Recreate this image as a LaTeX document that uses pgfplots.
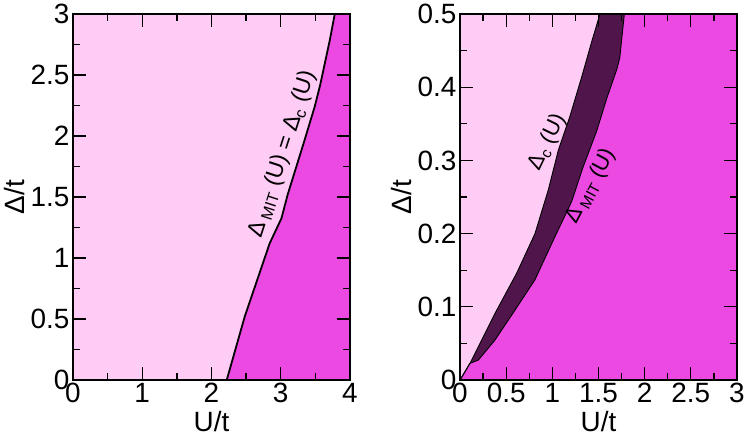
\documentclass[border=0pt]{standalone}
\usepackage{fontspec}
\setmainfont{Liberation Sans}
\usepackage{pgfplots}
\pgfplotsset{compat=1.18}
\definecolor{lpink}{RGB}{255,204,246}
\definecolor{mag}{RGB}{236,72,226}
\definecolor{dpur}{RGB}{80,22,76}
\pgfplotsset{
 myaxis/.style={
  scale only axis, width=277bp, height=366bp,
  axis background/.style={fill=lpink},
  axis line style={line width=1.6bp},
  every tick/.style={black, line width=1.3bp},
  major tick length=13bp, minor tick length=7bp,
  tick align=inside,
  /pgf/number format/assume math mode=true,
  tick label style={font=\fontsize{28}{30}\selectfont},
  every axis x label/.style={at={(axis description cs:0.5,0)}, yshift=-42bp, anchor=center, inner sep=0pt, font=\fontsize{28}{30}\selectfont},
  every axis y label/.style={at={(axis description cs:0,0.5)}, xshift=-58bp, rotate=90, anchor=center, inner sep=0pt, font=\fontsize{28}{30}\selectfont},
  xlabel={U/t}, ylabel={Δ/t},
  axis on top,
  minor x tick num=1, minor y tick num=1,
 }
}
\begin{document}
\begin{tikzpicture}
\useasboundingbox (-73bp,-57bp) rectangle (674bp,380bp);
\begin{axis}[myaxis, xmin=0, xmax=4, ymin=0, ymax=3,
  xtick={0,1,2,3,4}, ytick={0,0.5,1,1.5,2,2.5,3}]
\addplot[fill=mag, draw=none] coordinates {(2.22,0) (2.48,0.52) (2.84,1.12) (3.01,1.325) (3.1,1.52) (3.33,1.94) (3.49,2.24) (3.57,2.42) (3.71,2.79) (3.78,3) (4,3) (4,0)};
\addplot[black, line width=1.8bp] coordinates {(2.22,0) (2.48,0.52) (2.84,1.12) (3.01,1.325) (3.1,1.52) (3.33,1.94) (3.49,2.24) (3.57,2.42) (3.71,2.79) (3.78,3)};
\node[rotate=72, inner sep=0pt, font=\fontsize{23}{23}\selectfont] at (axis cs:3.03,1.85) {Δ\,\textsubscript{MIT} (U) = Δ\textsubscript{c} (U)};
\end{axis}
\begin{axis}[myaxis, at={(387bp,0)}, xmin=0, xmax=3, ymin=0, ymax=0.5,
  xtick={0,0.5,1,1.5,2,2.5,3}, ytick={0,0.1,0.2,0.3,0.4,0.5}]
\addplot[fill=mag, draw=none] coordinates {(0,0) (0.108,0.0228) (0.199,0.0273) (0.379,0.0546) (0.596,0.0956) (0.812,0.137) (1.029,0.196) (1.21,0.244) (1.33,0.29) (1.48,0.34) (1.59,0.385) (1.70,0.425) (1.73,0.44) (1.78,0.5) (3,0.5) (3,0)};
\addplot[fill=dpur, draw=none] coordinates {(0,0) (0.108,0.0228) (0.379,0.091) (0.614,0.146) (0.812,0.2) (0.957,0.26) (1.065,0.314) (1.19,0.36) (1.318,0.414) (1.426,0.462) (1.516,0.5) (1.78,0.5) (1.73,0.44) (1.70,0.425) (1.59,0.385) (1.48,0.34) (1.33,0.29) (1.21,0.244) (1.029,0.196) (0.812,0.137) (0.596,0.0956) (0.379,0.0546) (0.199,0.0273) (0.108,0.0228)};
\addplot[black, line width=0.9bp] coordinates {(0,0) (0.108,0.0228) (0.379,0.091) (0.614,0.146) (0.812,0.2) (0.957,0.26) (1.065,0.314) (1.19,0.36) (1.318,0.414) (1.426,0.462) (1.516,0.5)};
\addplot[black, line width=0.9bp] coordinates {(0,0) (0.108,0.0228) (0.199,0.0273) (0.379,0.0546) (0.596,0.0956) (0.812,0.137) (1.029,0.196) (1.21,0.244) (1.33,0.29) (1.48,0.34) (1.59,0.385) (1.70,0.425) (1.73,0.44) (1.78,0.5)};
\node[rotate=64, inner sep=0pt, font=\fontsize{22}{22}\selectfont] at (axis cs:0.95,0.325) {Δ\textsubscript{c} (U)};
\node[rotate=62, inner sep=0pt, font=\fontsize{22}{22}\selectfont] at (axis cs:1.42,0.265) {Δ\,\textsubscript{MIT} (U)};
\end{axis}
\end{tikzpicture}
\end{document}
